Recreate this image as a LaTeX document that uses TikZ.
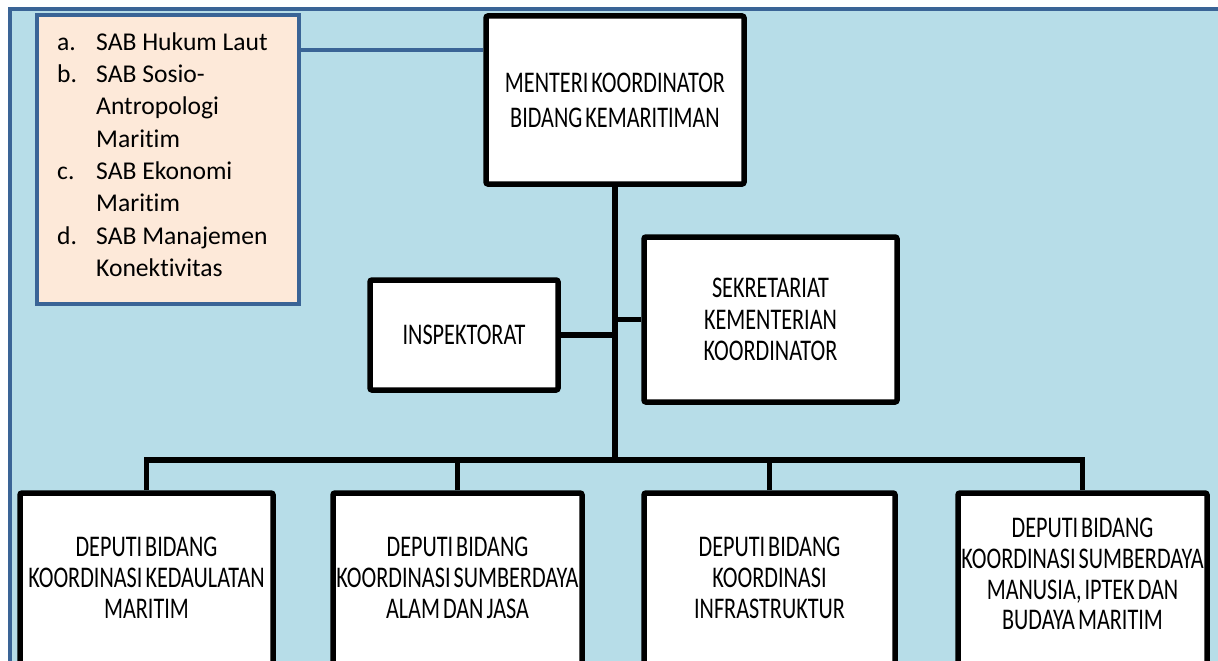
\documentclass[tikz,border=0pt]{standalone}
\usepackage{fontspec}
\setmainfont{Carlito}
\newfontfamily\boxfont[FakeStretch=0.74, WordSpace=0.6, Ligatures=NoCommon]{Carlito}
\newfontfamily\legfont[Ligatures=NoCommon]{Carlito}
\definecolor{bgblue}{HTML}{B7DDE8}
\definecolor{frameblue}{HTML}{3A6496}
\definecolor{legfill}{HTML}{FDE9D9}
\tikzset{
  x=1pt, y=-1pt,
  orgbox/.style={draw=black, line width=5.5pt, fill=white, rounded corners=2pt,
    inner sep=0pt, align=center},
  toptext/.style={font=\boxfont\fontsize{30}{35}\selectfont},
  midtext/.style={font=\boxfont\fontsize{30}{31.5}\selectfont},
  lowtext/.style={inner sep=0pt, align=center, font=\boxfont\fontsize{30}{30.8}\selectfont},
  link/.style={draw=black, line width=5.5pt},
  legbox/.style={draw=frameblue, line width=4pt, fill=legfill, inner sep=0pt},
  leglink/.style={draw=frameblue, line width=4pt},
}
\begin{document}
\begin{tikzpicture}
\useasboundingbox (0,0) rectangle (1218,661);
% background panel with its frame on the top and left sides
\fill[bgblue] (10,9.5) rectangle (1218,661);
\draw[frameblue, line width=4pt] (10,661) -- (10,9.5) -- (1218,9.5);

% advisory staff list
\node[legbox, minimum width=262.5pt, minimum height=288.5pt] (leg) at (167.75,159.25) {};
\node[anchor=north west, inner sep=0pt, font=\legfont\fontsize{25.6}{32.3}\selectfont] (legtext) at (57,27.4) {%
  \begin{tabular}{@{}p{39pt}@{}l@{}}
  a. & SAB Hukum Laut\\
  b. & SAB Sosio-\\
     & Antropologi\\
     & Maritim\\
  c. & SAB Ekonomi\\
     & Maritim\\
  d. & SAB Manajemen\\
     & Konektivitas
  \end{tabular}};

% minister
\node[orgbox, toptext, minimum width=258pt, minimum height=168pt] (men) at (615,100)
  {MENTERI KOORDINATOR\\BIDANG KEMARITIMAN};
% inspectorate and secretariat
\node[orgbox, midtext, minimum width=188pt, minimum height=110pt] (insp) at (464,335)
  {INSPEKTORAT};
\node[orgbox, midtext, minimum width=253pt, minimum height=165pt] (sek) at (770.5,319.5)
  {SEKRETARIAT\\KEMENTERIAN\\KOORDINATOR};

% deputies (boxes run past the lower edge)
\node[orgbox, minimum width=253pt, minimum height=180pt] (d1) at (146.5,583) {};
\node[orgbox, minimum width=249pt, minimum height=180pt] (d2) at (457.5,583) {};
\node[orgbox, minimum width=251pt, minimum height=180pt] (d3) at (769.5,583) {};
\node[orgbox, minimum width=249pt, minimum height=180pt] (d4) at (1082.5,583) {};
\node[lowtext] (d1t) at (146.5,578) {DEPUTI BIDANG\\KOORDINASI KEDAULATAN\\MARITIM};
\node[lowtext] (d2t) at (457.5,578) {DEPUTI BIDANG\\KOORDINASI SUMBERDAYA\\ALAM DAN JASA};
\node[lowtext] (d3t) at (769.5,578) {DEPUTI BIDANG\\KOORDINASI\\INFRASTRUKTUR};
\node[lowtext] (d4t) at (1082.5,574) {DEPUTI BIDANG\\KOORDINASI SUMBERDAYA\\MANUSIA, IPTEK DAN\\BUDAYA MARITIM};

% connectors
\coordinate (bus) at (615,460);
\draw[leglink] (leg.east |- 0,50) -- (men.west |- 0,50);
\draw[link] (men.south) -- (bus);
\draw[link] (insp.east) -- (insp.east -| bus);
\draw[link] (sek.west) -- (sek.west -| bus);
\draw[link] (d1.north) |- (bus) -| (d4.north);
\draw[link] (d2.north) -- (d2.north |- bus);
\draw[link] (d3.north) -- (d3.north |- bus);
\end{tikzpicture}
\end{document}
